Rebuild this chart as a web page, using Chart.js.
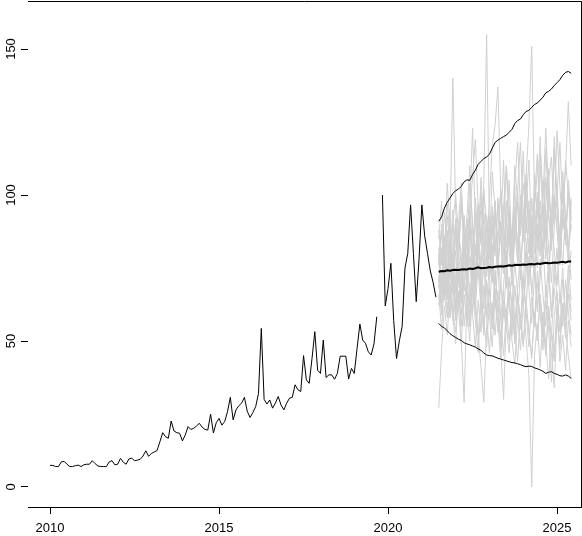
<!DOCTYPE html>
<html>
<head>
<meta charset="utf-8">
<script src="https://cdn.jsdelivr.net/npm/chart.js@4.4.1/dist/chart.umd.min.js"></script>
<style>
  html, body { margin: 0; padding: 0; background: #fff; }
  #wrap { width: 582px; height: 536px; }
</style>
</head>
<body>
<div id="wrap"><canvas id="chart" width="582" height="536"></canvas></div>
<script>
// monthly series, starts Jan 2010
const startYear = 2010;
const histValues = [
  7.4, 7.4, 7.0, 7.0, 8.6, 8.8, 7.8, 7.0, 7.0, 7.3, 7.5, 7.0,
  7.6, 7.8, 7.8, 9.0, 8.0, 7.2, 7.0, 7.0, 7.0, 8.6, 9.0, 7.6,
  7.8, 9.8, 8.5, 7.8, 9.6, 9.9, 9.0, 9.2, 9.5, 10.6, 12.4, 10.5,
  11.5, 12.0, 12.5, 15.5, 18.6, 17.2, 16.7, 22.6, 19.2, 18.6, 18.4, 15.8,
  17.8, 20.7, 19.7, 20.1, 20.9, 21.8, 20.5, 19.7, 19.5, 24.9, 18.5, 22.0,
  23.5, 21.2, 22.4, 25.8, 30.7, 23.0, 26.4, 27.8, 28.7, 30.7, 26.0, 23.8,
  25.5, 27.5, 32.0, 54.3, 30.0, 28.4, 29.8, 27.0, 28.7, 31.0, 28.1, 26.4,
  28.7, 30.4, 30.7, 35.0, 33.3, 32.7, 45.0, 36.7, 35.5, 44.0, 53.2, 40.0,
  38.9, 50.3, 37.5, 38.4, 38.4, 36.9, 38.9, 44.8, 44.8, 44.8, 37.0, 40.6,
  38.9, 47.5, 55.8, 50.3, 49.2, 46.3, 45.2, 49.0, 58.3, null, 100, 62.0,
  68.0, 76.6, 57.0, 44.0, 50.0, 55.0, 75.0, 80.0, 96.6, 80.0, 63.5, 78.0,
  96.6, 86.0, 80.0, 74.0, 70.0, 65.0
];

// forecast, 48 months after the last observation
const meanValues = [
  73.7, 74.0, 73.9, 74.2, 74.1, 74.3, 74.4, 74.3, 74.5, 74.6, 74.5, 74.8,
  74.7, 74.9, 75.2, 74.9, 75.0, 75.1, 75.3, 75.2, 75.4, 75.5, 75.6, 75.5,
  75.7, 75.9, 75.8, 76.0, 76.1, 76.0, 76.2, 76.1, 76.3, 76.4, 76.2, 76.5,
  76.4, 76.6, 76.8, 76.6, 76.7, 76.9, 76.8, 77.0, 77.1, 76.9, 77.2, 77.2
];
const upperValues = [
  91.0, 92.5, 95.5, 97.5, 99.0, 100.5, 101.5, 102.0, 103.0, 104.5, 105.2, 105.0,
  107.0, 108.5, 110.5, 111.5, 112.5, 113.0, 114.0, 116.0, 118.0, 118.8, 119.4, 120.0,
  120.5, 121.5, 122.5, 124.5, 125.5, 126.0, 127.5, 128.6, 129.0, 130.0, 131.0, 131.5,
  132.5, 133.5, 135.0, 135.5, 136.3, 137.5, 138.5, 139.5, 141.0, 142.0, 142.3, 141.7
];
const lowerValues = [
  56.0, 55.0, 54.5, 53.5, 52.5, 51.8, 51.2, 50.6, 50.2, 49.4, 49.0, 48.7,
  48.3, 47.9, 47.3, 46.8, 45.9, 45.2, 45.0, 44.9, 44.5, 44.1, 43.8, 43.5,
  43.2, 42.9, 42.6, 42.5, 42.2, 41.9, 41.5, 41.2, 41.4, 41.3, 40.8, 40.5,
  40.1, 39.6, 38.9, 39.3, 39.5, 38.9, 38.6, 38.1, 38.0, 38.4, 38.0, 37.2
];

// simulated paths (grey)
const simPaths = [
  [70, 82, 65, 88, 74, 95, 68, 80, 72, 90, 85, 62, 78, 99, 84, 70, 105, 155, 88, 76, 92, 81, 67, 96, 110, 85, 73, 90, 102, 79, 68, 95, 112, 87, 74, 99, 83, 105, 92, 71, 88, 116, 94, 80, 101, 86, 77, 98],
  [78, 66, 84, 72, 58, 80, 91, 70, 64, 86, 77, 95, 69, 83, 74, 61, 79, 92, 85, 70, 98, 76, 88, 112, 82, 94, 71, 86, 101, 118, 92, 106, 124, 151, 97, 84, 110, 95, 78, 102, 89, 120, 98, 85, 108, 93, 81, 90],
  [85, 98, 76, 104, 90, 140, 95, 82, 100, 78, 92, 110, 87, 74, 96, 83, 102, 88, 71, 94, 80, 99, 86, 73, 91, 105, 79, 88, 97, 75, 90, 84, 69, 93, 80, 101, 87, 76, 95, 82, 70, 89, 104, 78, 92, 85, 99, 88],
  [72, 60, 78, 68, 85, 74, 62, 88, 79, 67, 92, 80, 71, 95, 83, 106, 90, 78, 99, 117, 124, 137, 101, 88, 110, 95, 82, 104, 118, 96, 85, 107, 92, 80, 99, 114, 88, 76, 97, 109, 84, 95, 122, 103, 89, 112, 100, 94],
  [76, 88, 70, 82, 95, 78, 66, 90, 104, 85, 73, 96, 82, 69, 88, 101, 79, 93, 72, 86, 98, 75, 91, 80, 68, 94, 85, 103, 77, 90, 115, 87, 98, 81, 107, 92, 120, 96, 84, 105, 113, 91, 100, 118, 97, 108, 132, 110],
  [66, 54, 71, 60, 75, 58, 49, 67, 55, 72, 61, 50, 68, 57, 46, 63, 52, 70, 59, 48, 65, 56, 44, 61, 53, 67, 50, 42, 58, 47, 63, 51, 38, 0, 45, 56, 41, 60, 49, 37, 54, 46, 62, 43, 52, 40, 57, 48],
  [27, 47, 62, 52, 68, 57, 73, 61, 49, 66, 55, 70, 59, 48, 64, 53, 69, 58, 46, 63, 52, 67, 57, 45, 61, 50, 65, 54, 43, 59, 49, 64, 53, 44, 60, 51, 66, 56, 45, 62, 52, 68, 58, 47, 63, 54, 69, 60],
  [80, 68, 86, 74, 92, 70, 58, 77, 50, 29, 64, 95, 123, 90, 78, 97, 84, 72, 93, 81, 69, 88, 102, 85, 74, 91, 79, 96, 83, 71, 89, 105, 86, 75, 93, 81, 98, 87, 116, 94, 82, 99, 88, 77, 95, 84, 102, 91],
  [74, 63, 79, 69, 84, 72, 61, 77, 66, 82, 71, 59, 75, 64, 52, 41, 29, 55, 68, 58, 73, 62, 50, 67, 57, 72, 61, 49, 66, 56, 71, 60, 48, 65, 55, 70, 59, 47, 64, 54, 36, 58, 67, 53, 62, 51, 66, 57],
  [68, 80, 72, 64, 78, 69, 86, 75, 63, 81, 70, 88, 76, 65, 83, 72, 61, 79, 68, 57, 74, 63, 48, 30, 59, 71, 62, 77, 66, 54, 72, 61, 79, 67, 56, 74, 63, 51, 69, 58, 46, 34, 57, 66, 55, 71, 60, 52],
  [79, 87, 74, 93, 81, 70, 89, 78, 96, 84, 73, 91, 80, 68, 87, 76, 94, 83, 71, 90, 79, 97, 85, 74, 92, 81, 69, 88, 77, 95, 84, 100, 89, 78, 96, 108, 114, 99, 123, 101, 90, 116, 97, 86, 104, 92, 80, 99],
  [62, 74, 66, 58, 70, 61, 53, 67, 59, 72, 63, 55, 69, 60, 52, 66, 57, 48, 63, 54, 68, 59, 50, 64, 55, 46, 61, 52, 66, 57, 48, 62, 53, 45, 59, 50, 64, 55, 47, 61, 52, 43, 58, 49, 63, 54, 45, 37],
  [88, 76, 94, 82, 71, 90, 100, 87, 75, 93, 81, 104, 91, 79, 97, 85, 73, 92, 80, 108, 95, 83, 101, 89, 77, 96, 84, 110, 98, 86, 104, 92, 80, 99, 87, 75, 94, 82, 106, 93, 81, 100, 88, 76, 95, 83, 105, 92],
  [71, 59, 76, 65, 81, 69, 57, 74, 63, 79, 67, 56, 72, 61, 77, 66, 54, 71, 60, 76, 64, 53, 70, 58, 75, 63, 52, 69, 57, 74, 62, 80, 68, 56, 73, 61, 78, 66, 55, 72, 60, 77, 65, 54, 71, 59, 76, 64],
  [77, 90, 83, 97, 86, 75, 92, 81, 99, 88, 76, 94, 106, 119, 95, 84, 101, 90, 78, 96, 85, 73, 91, 80, 98, 87, 75, 93, 82, 100, 89, 77, 95, 84, 72, 90, 79, 97, 86, 74, 92, 81, 69, 87, 76, 94, 83, 71],
  [82, 71, 64, 76, 58, 69, 81, 62, 74, 55, 67, 79, 60, 72, 84, 65, 77, 59, 71, 83, 64, 76, 57, 69, 81, 62, 74, 56, 68, 80, 61, 73, 85, 66, 78, 60, 72, 84, 65, 77, 58, 70, 82, 63, 75, 57, 69, 81]
];

const xTicks = [2010, 2015, 2020, 2025];
const yTicks = [0, 50, 100, 150];

// turn month index into decimal year
function toPoints(values, offset) {
  return values.map((v, i) => ({ x: startYear + (offset + i) / 12, y: v }));
}
const fcOffset = histValues.length;

const datasets = [];
datasets.push({ data: toPoints(meanValues, fcOffset), borderColor: '#000', borderWidth: 2 });
datasets.push({ data: toPoints(upperValues, fcOffset), borderColor: '#000', borderWidth: 1 });
datasets.push({ data: toPoints(lowerValues, fcOffset), borderColor: '#000', borderWidth: 1 });
datasets.push({ data: toPoints(histValues, 0), borderColor: '#000', borderWidth: 1 });
simPaths.forEach(p => {
  datasets.push({ data: toPoints(p, fcOffset), borderColor: '#d0d0d0', borderWidth: 1 });
});

const font = { family: '"Liberation Sans", Arial, sans-serif', size: 13 };

// box on top/right and rotated y labels, like base R
const framePlugin = {
  id: 'frame',
  afterDraw(chart) {
    const ctx = chart.ctx;
    const a = chart.chartArea;
    const y = chart.scales.y;
    ctx.save();
    ctx.strokeStyle = '#000';
    ctx.lineWidth = 1;
    ctx.beginPath();
    ctx.moveTo(Math.round(a.left), Math.round(a.top) + 0.5);
    ctx.lineTo(Math.round(a.right) + 0.5, Math.round(a.top) + 0.5);
    ctx.lineTo(Math.round(a.right) + 0.5, Math.round(a.bottom) + 0.5);
    ctx.stroke();
    ctx.fillStyle = '#000';
    ctx.font = font.size + 'px ' + font.family;
    ctx.textAlign = 'center';
    ctx.textBaseline = 'middle';
    yTicks.forEach(t => {
      ctx.save();
      ctx.translate(11, y.getPixelForValue(t));
      ctx.rotate(-Math.PI / 2);
      ctx.fillText(String(t), 0, 0);
      ctx.restore();
    });
    ctx.restore();
  }
};

new Chart(document.getElementById('chart'), {
  type: 'line',
  data: { datasets: datasets },
  options: {
    responsive: false,
    animation: false,
    devicePixelRatio: 1,
    spanGaps: false,
    elements: { point: { radius: 0 }, line: { tension: 0 } },
    layout: { padding: { top: 1, right: 1, left: 0, bottom: 0 } },
    plugins: { legend: { display: false }, tooltip: { enabled: false } },
    scales: {
      x: {
        type: 'linear',
        min: 2009.348,
        max: 2025.708,
        afterBuildTicks: s => { s.ticks = xTicks.map(v => ({ value: v })); },
        afterFit: s => { s.height = 29; },
        ticks: { color: '#000', font: font, padding: 7, maxRotation: 0, autoSkip: false, callback: v => String(v) },
        grid: { drawOnChartArea: false, tickLength: 7, color: '#000' },
        border: { display: true, color: '#000', width: 1 }
      },
      y: {
        type: 'linear',
        min: -6.85,
        max: 166.44,
        afterBuildTicks: s => { s.ticks = yTicks.map(v => ({ value: v })); },
        afterFit: s => { s.width = 28; },
        ticks: { display: false },
        grid: { drawOnChartArea: false, tickLength: 7, color: '#000' },
        border: { display: false }
      }
    }
  },
  plugins: [framePlugin]
});
</script>
</body>
</html>
